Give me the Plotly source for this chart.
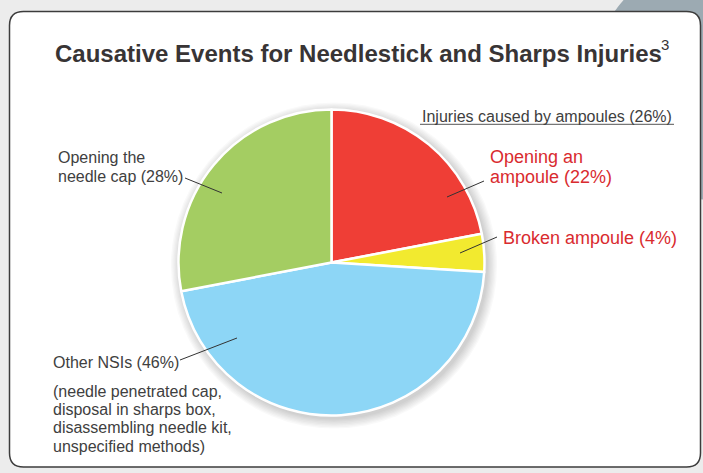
import plotly.graph_objects as go

W, H = 703, 473

labels = ["Opening an ampoule", "Broken ampoule", "Other NSIs", "Opening the needle cap"]
values = [22, 4, 46, 28]
colors = ["#ef3e36", "#f2ea2f", "#8dd6f6", "#a4cd62"]

title_text = "<b>Causative Events for Needlestick and Sharps Injuries</b>"
title_ref = "3"
group_label = "Injuries caused by ampoules (26%)"
ampoule_lines = ["Opening an", "ampoule (22%)"]
broken_line = "Broken ampoule (4%)"
cap_lines = ["Opening the", "needle cap (28%)"]
other_line = "Other NSIs (46%)"
other_detail_lines = ["(needle penetrated cap,", "disposal in sharps box,",
                      "disassembling needle kit,", "unspecified methods)"]


def px(x):
    return x / W


def py(y):
    return 1 - y / H


CX, CY, R = 331.5, 262.5, 153

fig = go.Figure()
fig.add_trace(go.Pie(
    labels=labels, values=values, sort=False, direction="clockwise", rotation=0,
    marker=dict(colors=colors, line=dict(color="white", width=2.5)),
    textinfo="none", hoverinfo="label+percent", showlegend=False,
    domain=dict(x=[px(CX - R), px(CX + R)], y=[py(CY + R), py(CY - R)]),
))

shapes = []
# background blob top right
shapes.append(dict(type="circle", xref="paper", yref="paper",
                   x0=px(713 - 120), x1=px(713 + 120), y0=py(80 + 120), y1=py(80 - 120),
                   fillcolor="#9caab2", line=dict(width=0), layer="below"))
# rounded white panel
x0, x1, y0, y1 = px(9.5), px(700.5), py(467), py(11.5)
rx, ry = 14 / W, 14 / H
path = (f"M {x0+rx},{y1} L {x1-rx},{y1} Q {x1},{y1} {x1},{y1-ry} "
        f"L {x1},{y0+ry} Q {x1},{y0} {x1-rx},{y0} L {x0+rx},{y0} "
        f"Q {x0},{y0} {x0},{y0+ry} L {x0},{y1-ry} Q {x0},{y1} {x0+rx},{y1} Z")
shapes.append(dict(type="path", xref="paper", yref="paper", path=path,
                   fillcolor="white", line=dict(color="#3c3c3c", width=1.5), layer="below"))
# soft shadow behind the pie
for i in range(8):
    rr = R + 1 + i * 1.3
    sx, sy = CX + 2.5, CY + 3
    shapes.append(dict(type="circle", xref="paper", yref="paper",
                       x0=px(sx - rr), x1=px(sx + rr), y0=py(sy + rr), y1=py(sy - rr),
                       fillcolor="rgba(0,0,0,0.022)", line=dict(width=0), layer="below"))
# underline of group label
shapes.append(dict(type="line", xref="paper", yref="paper",
                   x0=px(420), x1=px(674), y0=py(124.3), y1=py(124.3),
                   line=dict(color="#555555", width=1)))
# leader lines
leaders = [((447, 197), (484, 181)), ((460, 253), (497, 237)),
           ((185, 178), (222, 193)), ((180, 360), (237, 338))]
for (ax, ay), (bx, by) in leaders:
    shapes.append(dict(type="line", xref="paper", yref="paper",
                       x0=px(ax), y0=py(ay), x1=px(bx), y1=py(by),
                       line=dict(color="#333333", width=1)))

grey = "#404040"
red = "#d92b2f"
font = "Liberation Sans, Arial, sans-serif"
ann = []


def add(text, x, y, size, color, anchor="left"):
    ann.append(dict(text=text, x=px(x), y=py(y), xanchor=anchor, yanchor="middle",
                    xref="paper", yref="paper", showarrow=False, align="left",
                    font=dict(size=size, color=color, family=font)))


add(title_text, 358, 53, 24, "#383435", "center")
add(title_ref, 659, 45, 15, "#383435")
add(group_label, 420, 116.5, 16, grey)
for i, t in enumerate(ampoule_lines):
    add(t, 488, 157 + i * 20.5, 18, red)
add(broken_line, 501, 238, 18, red)
for i, t in enumerate(cap_lines):
    add(t, 56, 157.5 + i * 19, 16, grey)
add(other_line, 51, 362, 16, grey)
for i, t in enumerate(other_detail_lines):
    add(t, 51, 391.5 + i * 18.2, 16, grey)

fig.update_layout(
    width=W, height=H, margin=dict(l=0, r=0, t=0, b=0),
    paper_bgcolor="#ececec", plot_bgcolor="#ececec",
    shapes=shapes, annotations=ann,
)
fig.write_html("out.html", config={"displayModeBar": False},
               post_script="document.body.style.margin='0';document.body.style.overflow='hidden';")
